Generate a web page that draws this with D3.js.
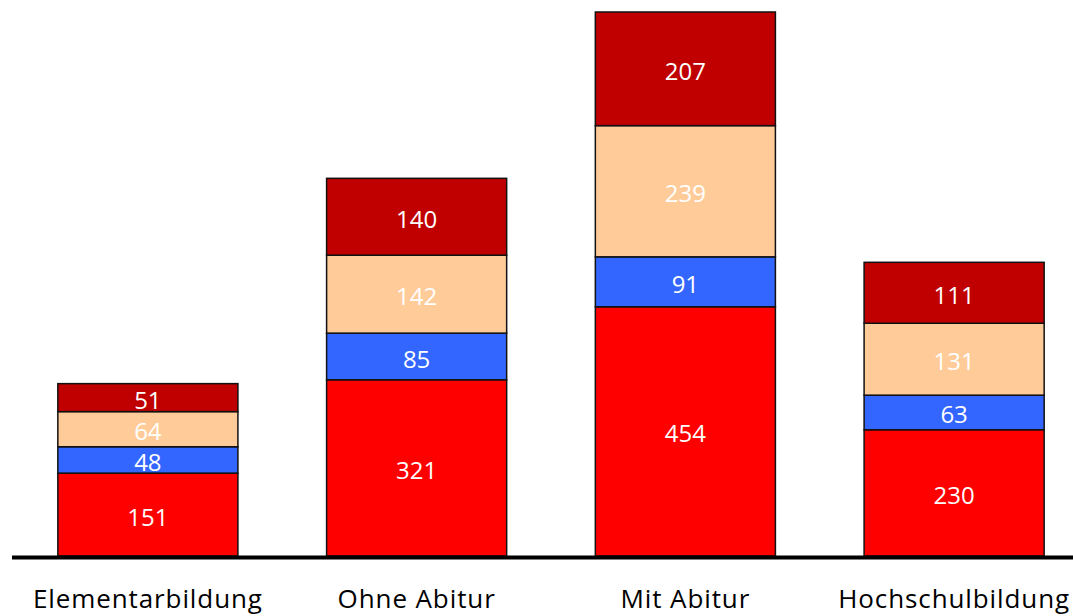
<!DOCTYPE html>
<html>
<head>
<meta charset="utf-8">
<script src="https://cdn.jsdelivr.net/npm/d3@7"></script>
<style>
  body { margin: 0; background: #fff; }
  text { font-family: "Open Sans", "Noto Sans", sans-serif; }
</style>
</head>
<body>
<div id="chart"></div>
<script>
// categories and segment values, bottom to top
var categories = ["Elementarbildung", "Ohne Abitur", "Mit Abitur", "Hochschulbildung"];
var seriesKeys = ["s1", "s2", "s3", "s4"];
var s1 = [151, 321, 454, 230];
var s2 = [48, 85, 91, 63];
var s3 = [64, 142, 239, 131];
var s4 = [51, 140, 207, 111];
var colors = ["#ff0000", "#3366ff", "#ffcc99", "#c00000"];

var width = 1073, height = 616;

var rows = categories.map(function(c, i) {
    return {cat: c, s1: s1[i], s2: s2[i], s3: s3[i], s4: s4[i]};
});

var stacked = d3.stack().keys(seriesKeys)(rows);

var svg = d3.select("#chart").append("svg")
    .attr("width", width)
    .attr("height", height);

var x = d3.scaleBand()
    .domain(categories)
    .range([13.5, 1088.5])
    .paddingInner(0.33)
    .paddingOuter(0.165);

var maxTotal = d3.max(rows, function(d){ return d.s1 + d.s2 + d.s3 + d.s4; });

var y = d3.scaleLinear()
    .domain([0, maxTotal])
    .range([556, 12]);

var layer = svg.selectAll("g.layer")
    .data(stacked)
    .enter().append("g")
    .attr("class", "layer")
    .attr("fill", function(d, i){ return colors[i]; });

layer.selectAll("rect")
    .data(function(d){ return d; })
    .enter().append("rect")
    .attr("x", function(d){ return x(d.data.cat); })
    .attr("y", function(d){ return y(d[1]); })
    .attr("width", x.bandwidth())
    .attr("height", function(d){ return y(d[0]) - y(d[1]); })
    .attr("stroke", "#111")
    .attr("stroke-width", 1.5);

layer.selectAll("text")
    .data(function(d){ return d; })
    .enter().append("text")
    .attr("x", function(d){ return x(d.data.cat) + x.bandwidth() / 2; })
    .attr("y", function(d){ return (y(d[0]) + y(d[1])) / 2; })
    .attr("dy", "0.46em")
    .attr("text-anchor", "middle")
    .attr("fill", "#fff")
    .style("font-size", "24px")
    .text(function(d){ return d[1] - d[0]; });

// baseline
svg.append("line")
    .attr("x1", 12)
    .attr("x2", width)
    .attr("y1", y(0) + 1.5)
    .attr("y2", y(0) + 1.5)
    .attr("stroke", "#000")
    .attr("stroke-width", 4);

// category labels
var xAxis = d3.axisBottom(x).tickSize(0).tickPadding(0);
var ax = svg.append("g")
    .attr("transform", "translate(0,590)")
    .call(xAxis);
ax.select(".domain").remove();
ax.selectAll("text")
    .attr("dy", "0.71em")
    .attr("fill", "#000")
    .style("font-family", "\"Open Sans\", sans-serif")
    .style("font-size", "26px")
    .style("letter-spacing", "0.9px");
</script>
</body>
</html>
